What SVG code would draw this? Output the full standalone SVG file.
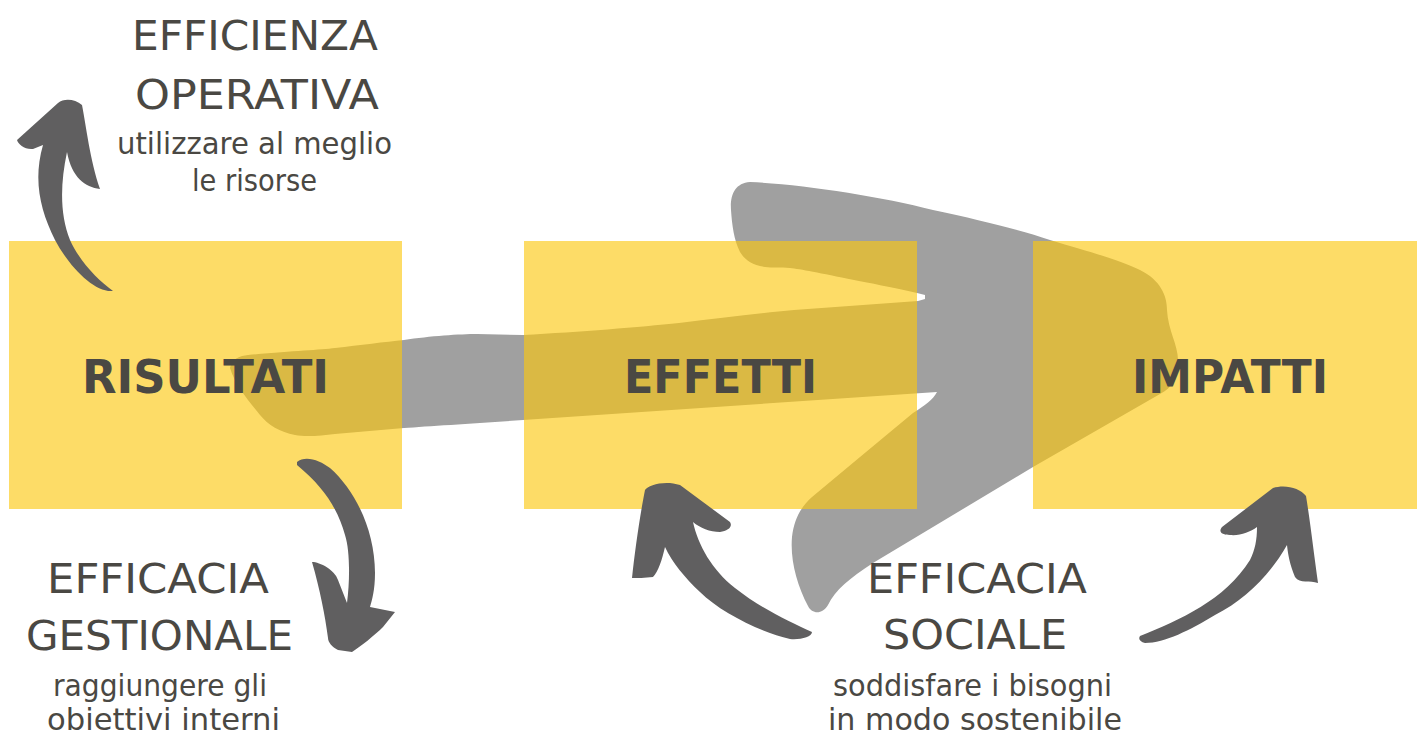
<svg xmlns="http://www.w3.org/2000/svg" width="1417" height="736" viewBox="0 0 1417 736">
<style>
.box{fill:#fcc80e;fill-opacity:0.63}
.arr{fill:#605f60}
.big{fill:#a0a0a0}
.lbl{font-family:"DejaVu Sans",sans-serif;font-weight:bold;font-size:46px;fill:#4a4843;text-anchor:middle}
.hd{font-family:"DejaVu Sans",sans-serif;font-size:40px;fill:#4a4843;text-anchor:middle}
.sub{font-family:"DejaVu Sans",sans-serif;font-size:31px;fill:#4a4843;text-anchor:middle}
</style>
<rect width="1417" height="736" fill="#ffffff"/>
<g id="connectors">
<path id="main-arrow" class="big" d="M 750 182 C 800 184 880 196 933 210 C 980 220 1020 230 1050 240 C 1090 252 1120 260 1140 270 C 1160 280 1167 295 1167 310 C 1168 330 1178 345 1178 360 C 1178 378 1172 388 1160 394 L 1033 467 L 873 563 C 850 578 835 590 828 605 C 822 615 812 614 808 606 C 797 585 790 560 792 537 C 794 520 800 508 812 497 L 860 457 L 913 413 C 925 405 933 400 937 392 L 523 420 C 480 423 430 426 404 428 L 335 434 C 320 436 305 437 295 435 C 280 432 268 425 260 415 C 248 400 235 385 230 368 C 232 358 240 356 248 355 C 290 351 320 350 335 348 C 360 345 385 342 404 340 C 430 336 460 334 477 334 L 523 335 C 580 332 640 327 679 323 C 720 318 760 313 794 310 L 918 301 L 925 299 L 925 295 L 917 293 C 890 287 870 283 854 280 C 820 273 800 269 790 268 C 780 267 772 268 765 267 C 752 265 745 260 740 252 C 734 240 732 225 731 210 C 730 195 735 183 750 182 Z"/>
</g>
<g id="risultati"><rect class="box" x="9" y="241" width="393" height="268"/><text class="lbl" x="205.5" y="393" textLength="247" lengthAdjust="spacingAndGlyphs">RISULTATI</text></g>
<g id="effetti"><rect class="box" x="524" y="241" width="393" height="268"/><text class="lbl" x="720.5" y="393" textLength="193" lengthAdjust="spacingAndGlyphs">EFFETTI</text></g>
<g id="impatti"><rect class="box" x="1033" y="241" width="393" height="268"/><text class="lbl" x="1230" y="393" textLength="196" lengthAdjust="spacingAndGlyphs">IMPATTI</text></g>
<g id="arrows">
<path class="arr" d="M 113 291 C 95 293 70 268 55 240 C 40 210 33 180 43 145 L 33 149 C 25 150 18 144 17 140 L 58 103 C 64 98 75 99 82 105 C 86 125 90 160 100 189 C 85 187 72 178 67 152 C 60 185 60 215 70 240 C 80 262 98 280 113 291 Z"/>
<path class="arr" d="M 297 462 C 305 455 320 460 330 468 C 355 490 375 530 375 573 C 375 590 372 600 370 607 L 395 612 L 383 627 C 375 635 360 647 352 652 L 338 650 C 332 647 328 642 328 638 C 325 615 320 590 312 562 C 320 562 335 570 338 580 L 347 603 C 350 580 350 550 345 535 C 338 510 325 488 297 465 Z"/>
<path class="arr" d="M 645 490 C 648 485 665 480 680 485 L 730 522 C 733 527 728 531 720 532 C 710 532 700 528 693 522 C 698 545 712 570 735 588 C 760 608 790 622 812 632 C 812 637 800 640 790 639 C 760 632 720 612 700 592 C 685 578 672 562 665 547 C 662 560 658 572 653 577 C 645 578 637 578 632 578 C 635 550 640 515 645 490 Z"/>
<path class="arr" d="M 1140 636 C 1180 620 1225 600 1250 560 C 1255 550 1257 540 1257 527 C 1250 532 1240 536 1230 535 C 1222 535 1218 532 1222 527 L 1273 488 C 1285 484 1300 488 1306 496 C 1310 520 1314 555 1318 583 C 1310 580 1300 584 1295 577 C 1290 565 1288 555 1287 545 C 1270 575 1245 600 1215 615 C 1190 630 1165 643 1145 643 C 1140 642 1138 639 1140 636 Z"/>
</g>
<g id="efficienza-operativa">
<text class="hd" x="255" y="50" textLength="246" lengthAdjust="spacingAndGlyphs">EFFICIENZA</text>
<text class="hd" x="257" y="109" textLength="244" lengthAdjust="spacingAndGlyphs">OPERATIVA</text>
<text class="sub" x="254.5" y="154" textLength="275" lengthAdjust="spacingAndGlyphs">utilizzare al meglio</text>
<text class="sub" x="254.5" y="191" textLength="125" lengthAdjust="spacingAndGlyphs">le risorse</text>
</g>
<g id="efficacia-gestionale">
<text class="hd" x="158" y="593" textLength="222" lengthAdjust="spacingAndGlyphs">EFFICACIA</text>
<text class="hd" x="159.5" y="650" textLength="267" lengthAdjust="spacingAndGlyphs">GESTIONALE</text>
<text class="sub" x="160" y="696" textLength="214" lengthAdjust="spacingAndGlyphs">raggiungere gli</text>
<text class="sub" x="163.5" y="730" textLength="233" lengthAdjust="spacingAndGlyphs">obiettivi interni</text>
</g>
<g id="efficacia-sociale">
<text class="hd" x="977" y="593" textLength="220" lengthAdjust="spacingAndGlyphs">EFFICACIA</text>
<text class="hd" x="975" y="649" textLength="184" lengthAdjust="spacingAndGlyphs">SOCIALE</text>
<text class="sub" x="972.5" y="696" textLength="279" lengthAdjust="spacingAndGlyphs">soddisfare i bisogni</text>
<text class="sub" x="975" y="730" textLength="294" lengthAdjust="spacingAndGlyphs">in modo sostenibile</text>
</g>
</svg>
